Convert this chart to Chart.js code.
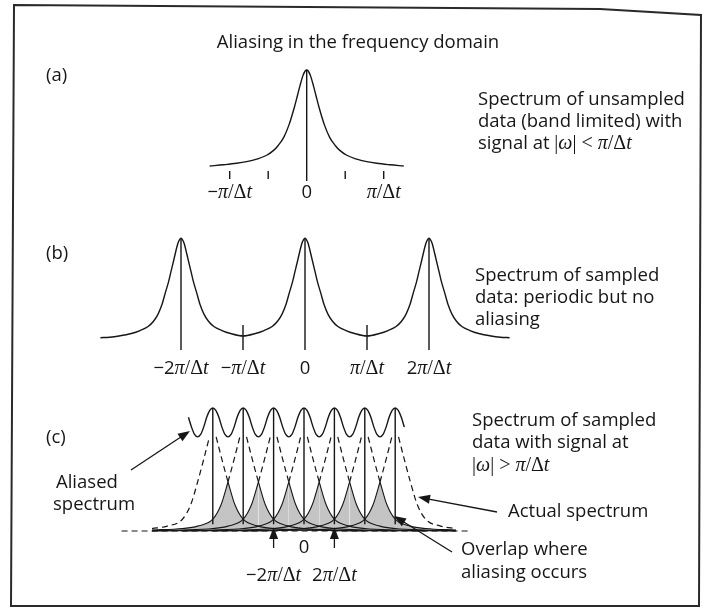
<!DOCTYPE html>
<html>
<head>
<meta charset="utf-8">
<script src="https://cdn.jsdelivr.net/npm/chart.js@4.4.1/dist/chart.umd.min.js"></script>
<style>
html, body { margin: 0; padding: 0; background: #fff; }
#wrap { position: relative; width: 709px; height: 610px; }
</style>
</head>
<body>
<div id="wrap"><canvas id="fig" width="709" height="610"></canvas></div>
<script>
// x values are in units of pi/dt, heights are relative to a single peak

// (a) unsampled, band limited spectrum (one side of the peak, mirrored)
var aOffsets = [0, 0.02, 0.05, 0.087, 0.12, 0.16, 0.23, 0.30, 0.37, 0.43, 0.52, 0.65, 0.78, 0.91, 1.08, 1.26];
var aLevels  = [1.00, 0.99, 0.94, 0.84, 0.74, 0.62, 0.44, 0.31, 0.23, 0.18, 0.13, 0.09, 0.065, 0.048, 0.033, 0.02];
var aTicks = [-1, -0.5, 0.5, 1];
var aLabelAt = [-1, 0, 1];
var aLabels = ['$−π/Δt$', '0', '$π/Δt$'];

// (b) sampled, periodic, no aliasing
var bCenters = [-2, 0, 2];
var bOffsets = [0, 0.025, 0.05, 0.11, 0.16, 0.20, 0.25, 0.31, 0.37, 0.44, 0.53, 0.66, 0.80, 1.0, 1.15, 1.3];
var bLevels  = [1.00, 0.985, 0.95, 0.80, 0.67, 0.565, 0.46, 0.33, 0.24, 0.17, 0.115, 0.075, 0.045, 0.02, 0.008, 0.003];
var bTicks = [-1, 1];
var bLabelAt = [-2, -1, 0, 1, 2];
var bLabels = ['$−2π/Δt$', '$−π/Δt$', '0', '$π/Δt$', '$2π/Δt$'];

// (c) sampled with aliasing: shifted copies of the actual spectrum
var cCenters = [-6, -4, -2, 0, 2, 4, 6];
var cOffsets = [0.22, 0.6, 1.0, 1.45, 2.0, 3.0, 4.0, 6.0, 8.0, 10.0];
var cLevels  = [0.96, 0.73, 0.50, 0.27, 0.12, 0.05, 0.025, 0.01, 0.004, 0.0];
var cTopOffsets = [0, 0.2, 0.4, 0.6, 0.8, 1.0];
var cTopLevels  = [1.255, 1.23, 1.16, 1.06, 0.985, 0.96];
var cTopRange = [-7.6, 6.6];
var cTailRange = [-10, 10];
var cBaseRange = [-12, 11];
var cStemBottom = 0.07;
var cArrowsAt = [-2, 2];
var cLabelAt = [-2, 0, 2];
var cLabels = ['$−2π/Δt$', '0', '$2π/Δt$'];

// where each panel sits on the page (pixels)
var panelA = { x0: 306.7, xUnit: 77,   y0: 168, yUnit: 98,   labelY: 193 };
var panelB = { x0: 305,   xUnit: 62,   y0: 338, yUnit: 99.7, labelY: 369 };
var panelC = { x0: 304,   xUnit: 15.2, y0: 531, yUnit: 98,   labelY: 576 };

var W = 709, H = 610;
var INK = '#161616';
var SANS = '"Open Sans", "DejaVu Sans", sans-serif';
var SERIF = '"Liberation Serif", "DejaVu Serif", serif';
var TXT = 18.5, MATH = 20;

function xSpan(p) { return { min: -p.x0 / p.xUnit, max: (W - p.x0) / p.xUnit }; }
function ySpan(p) { return { min: (p.y0 - H) / p.yUnit, max: p.y0 / p.yUnit }; }

function mirror(offsets, levels) {
  var pts = [];
  for (var i = offsets.length - 1; i > 0; i--) pts.push({ x: -offsets[i], y: levels[i] });
  for (var j = 0; j < offsets.length; j++) pts.push({ x: offsets[j], y: levels[j] });
  return pts;
}

var datasets = [];
function curve(data, xs, ys, extra) {
  var ds = {
    data: data, xAxisID: xs, yAxisID: ys,
    borderColor: INK, borderWidth: 1.4, pointRadius: 0,
    fill: false, cubicInterpolationMode: 'monotone', order: 1
  };
  for (var k in extra) ds[k] = extra[k];
  datasets.push(ds);
}
function stem(x, yTop, yBot, xs, ys) {
  curve([{ x: x, y: yTop }, { x: x, y: yBot }], xs, ys, { cubicInterpolationMode: 'default', tension: 0 });
}

// ---- (a)
curve(mirror(aOffsets, aLevels), 'xa', 'ya');
stem(0, 1, -0.133, 'xa', 'ya');
aTicks.forEach(function (t) { stem(t, -0.03, -0.112, 'xa', 'ya'); });

// ---- (b)
var bProfile = mirror(bOffsets, bLevels);
var bData = [];
bCenters.forEach(function (c, i) {
  bProfile.forEach(function (p) {
    if (p.x < -1 && i > 0) return;
    if (p.x > 1 && i < bCenters.length - 1) return;
    if (p.x === -1 && i > 0) return;
    bData.push({ x: c + p.x, y: p.y });
  });
});
curve(bData, 'xb', 'yb');
bCenters.forEach(function (c) { stem(c, 1, -0.12, 'xb', 'yb'); });
bTicks.forEach(function (t) { stem(t, 0.13, -0.12, 'xb', 'yb'); });

// ---- (c)
// overlapping tails (shaded) of neighbouring copies
cCenters.forEach(function (c, i) {
  var left = [], right = [];
  cOffsets.forEach(function (o, j) {
    if (o < 1) return;
    if (c - o >= cTailRange[0]) left.unshift({ x: c - o, y: cLevels[j] });
    if (c + o <= cTailRange[1]) right.push({ x: c + o, y: cLevels[j] });
  });
  var shade = { fill: 'origin', backgroundColor: '#c4c4c4', borderWidth: 1.1, order: 2 };
  if (i > 0) curve(left, 'xc', 'yc', shade);
  if (i < cCenters.length - 1) curve(right, 'xc', 'yc', shade);
});
// upper flanks of every copy, dashed
cCenters.forEach(function (c, i) {
  var left = [], right = [];
  cOffsets.forEach(function (o, j) {
    var reachL = i === 0 ? 4 : 1;
    var reachR = i === cCenters.length - 1 ? 4 : 1;
    if (o <= reachL) left.unshift({ x: c - o, y: cLevels[j] });
    if (o <= reachR) right.push({ x: c + o, y: cLevels[j] });
  });
  curve(left, 'xc', 'yc', { borderDash: [6, 4], borderWidth: 1.2 });
  curve(right, 'xc', 'yc', { borderDash: [6, 4], borderWidth: 1.2 });
});
// aliased (summed) spectrum on top
var topProfile = mirror(cTopOffsets, cTopLevels);
var topData = [];
for (var c = cCenters[0] - 2; c <= cCenters[cCenters.length - 1] + 2; c += 2) {
  topProfile.forEach(function (p) {
    var x = c + p.x;
    if (x < cTopRange[0] - 1e-9 || x > cTopRange[1] + 1e-9) return;
    if (topData.length && Math.abs(topData[topData.length - 1].x - x) < 1e-9) return;
    topData.push({ x: x, y: p.y });
  });
}
curve(topData, 'xc', 'yc');
cCenters.forEach(function (c) { stem(c, cTopLevels[0], cStemBottom, 'xc', 'yc'); });
curve([{ x: cBaseRange[0], y: 0 }, { x: cBaseRange[1], y: 0 }], 'xc', 'yc',
  { borderDash: [6, 4], borderWidth: 1.2, cubicInterpolationMode: 'default', tension: 0 });

// ---- text helpers
function runsOf(str) {
  var runs = [], inMath = false, cur = null;
  for (var i = 0; i < str.length; i++) {
    var ch = str[i];
    if (ch === '$') { inMath = !inMath; continue; }
    var f;
    if (!inMath) f = TXT + 'px ' + SANS;
    else if (/[πωt]/.test(ch)) f = 'italic ' + MATH + 'px ' + SERIF;
    else if (/[0-9−]/.test(ch)) f = TXT + 'px ' + SANS;
    else f = MATH + 'px ' + SERIF;
    if (cur && cur.f === f) cur.t += ch;
    else { cur = { f: f, t: ch }; runs.push(cur); }
  }
  return runs;
}
function rich(ctx, str, x, y, align) {
  var runs = runsOf(str), total = 0;
  runs.forEach(function (r) { ctx.font = r.f; r.w = ctx.measureText(r.t).width; total += r.w; });
  var px = align === 'center' ? x - total / 2 : x;
  ctx.textAlign = 'left';
  ctx.textBaseline = 'middle';
  runs.forEach(function (r) { ctx.font = r.f; ctx.fillText(r.t, px, y); px += r.w; });
}
function arrow(ctx, x1, y1, x2, y2) {
  var a = Math.atan2(y2 - y1, x2 - x1), L = 12, w = 4.5;
  ctx.beginPath();
  ctx.moveTo(x1, y1);
  ctx.lineTo(x2 - L * 0.8 * Math.cos(a), y2 - L * 0.8 * Math.sin(a));
  ctx.stroke();
  ctx.beginPath();
  ctx.moveTo(x2, y2);
  ctx.lineTo(x2 - L * Math.cos(a) + w * Math.sin(a), y2 - L * Math.sin(a) - w * Math.cos(a));
  ctx.lineTo(x2 - L * Math.cos(a) - w * Math.sin(a), y2 - L * Math.sin(a) + w * Math.cos(a));
  ctx.closePath();
  ctx.fill();
}

var notes = {
  id: 'notes',
  afterDraw: function (chart) {
    var ctx = chart.ctx, s = chart.scales;
    ctx.save();
    ctx.fillStyle = INK;

    // frame
    ctx.lineWidth = 2;
    ctx.strokeStyle = '#2a2a2a';
    ctx.beginPath();
    ctx.moveTo(14, 5); ctx.lineTo(600, 9); ctx.lineTo(701, 15);
    ctx.lineTo(699, 606); ctx.lineTo(11, 606); ctx.closePath();
    ctx.stroke();
    ctx.strokeStyle = INK;

    rich(ctx, 'Aliasing in the frequency domain', 358, 43, 'center');
    rich(ctx, '(a)', 46, 76, 'left');
    rich(ctx, '(b)', 46, 254, 'left');
    rich(ctx, '(c)', 46, 438, 'left');

    rich(ctx, 'Spectrum of unsampled', 478, 100, 'left');
    rich(ctx, 'data (band limited) with', 478, 122, 'left');
    rich(ctx, 'signal at $|ω| < π/Δt$', 478, 144, 'left');

    rich(ctx, 'Spectrum of sampled', 475, 276, 'left');
    rich(ctx, 'data: periodic but no', 475, 298, 'left');
    rich(ctx, 'aliasing', 475, 320, 'left');

    rich(ctx, 'Spectrum of sampled', 472, 421, 'left');
    rich(ctx, 'data with signal at', 472, 443, 'left');
    rich(ctx, '$|ω| > π/Δt$', 472, 466, 'left');

    rich(ctx, 'Aliased', 56, 483, 'left');
    rich(ctx, 'spectrum', 53, 505, 'left');
    rich(ctx, 'Actual spectrum', 508, 512, 'left');
    rich(ctx, 'Overlap where', 461, 550, 'left');
    rich(ctx, 'aliasing occurs', 461, 573, 'left');

    aLabelAt.forEach(function (v, i) { rich(ctx, aLabels[i], s.xa.getPixelForValue(v), panelA.labelY, 'center'); });
    bLabelAt.forEach(function (v, i) { rich(ctx, bLabels[i], s.xb.getPixelForValue(v), panelB.labelY, 'center'); });
    cLabelAt.forEach(function (v, i) {
      var y = v === 0 ? 548 : panelC.labelY;
      rich(ctx, cLabels[i], s.xc.getPixelForValue(v), y, 'center');
    });

    ctx.lineWidth = 1.3;
    cArrowsAt.forEach(function (v) {
      var x = s.xc.getPixelForValue(v);
      arrow(ctx, x, 548, x, 527);
    });
    arrow(ctx, 131, 470, 190, 431);
    arrow(ctx, 497, 512, 418, 497);
    arrow(ctx, 452, 552, 394, 516);
    ctx.restore();
  }
};

function hidden(axis, span) {
  return { type: 'linear', axis: axis, display: false, min: span.min, max: span.max };
}

new Chart(document.getElementById('fig'), {
  type: 'line',
  data: { datasets: datasets },
  options: {
    responsive: false,
    animation: false,
    devicePixelRatio: 1,
    layout: { padding: 0 },
    scales: {
      xa: hidden('x', xSpan(panelA)), ya: hidden('y', ySpan(panelA)),
      xb: hidden('x', xSpan(panelB)), yb: hidden('y', ySpan(panelB)),
      xc: hidden('x', xSpan(panelC)), yc: hidden('y', ySpan(panelC))
    },
    plugins: {
      legend: { display: false },
      tooltip: { enabled: false },
      filler: { drawTime: 'beforeDatasetsDraw' }
    }
  },
  plugins: [notes]
});
</script>
</body>
</html>
